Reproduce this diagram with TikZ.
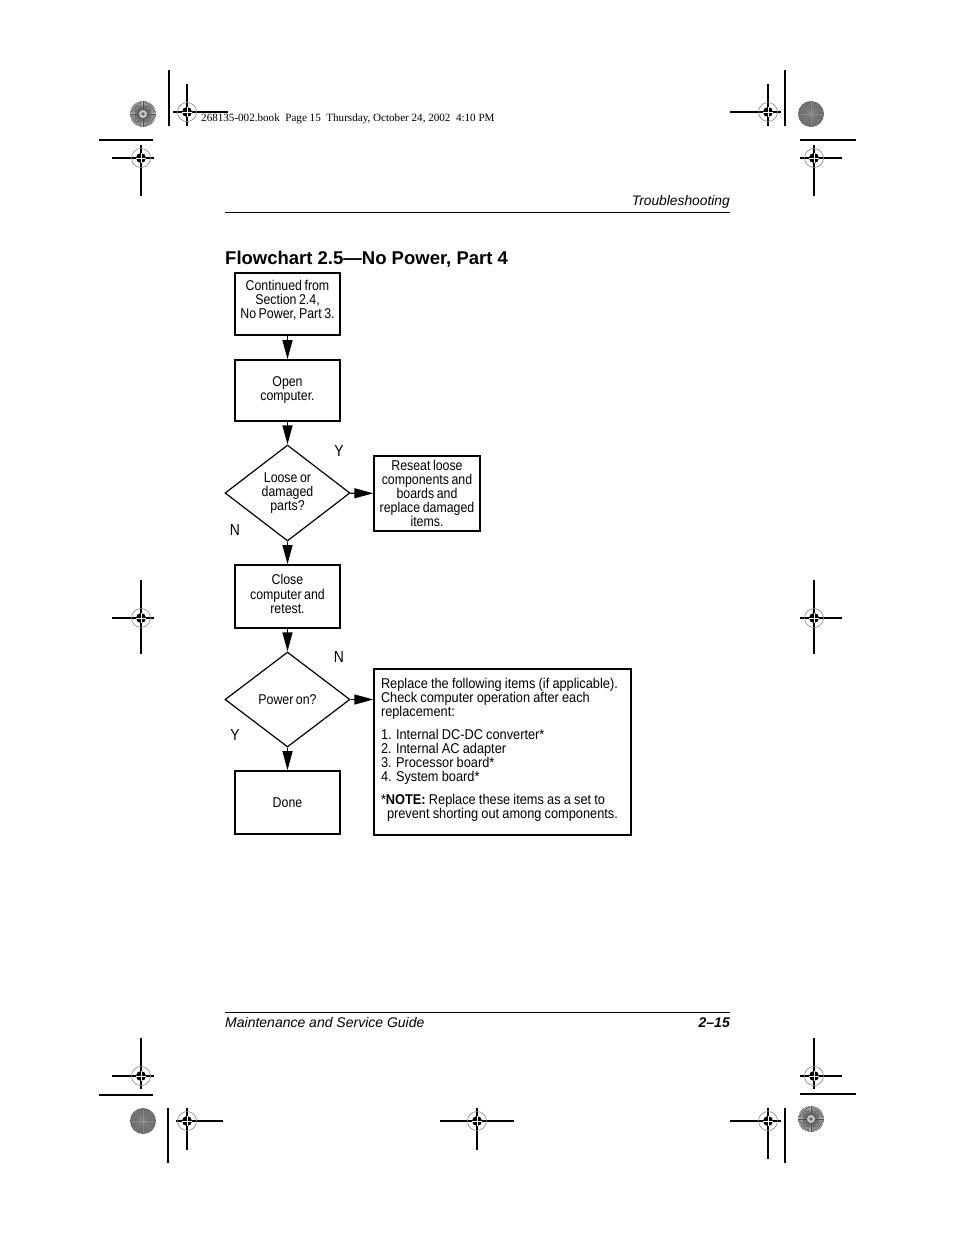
\documentclass[tikz,border=0pt]{standalone}
\usepackage{fontspec}
\setmainfont{Liberation Sans}
\newfontfamily\condfont[FakeStretch=0.87,WordSpace=0.75]{Liberation Sans}
\newfontfamily\condwide[FakeStretch=0.9,WordSpace=0.9]{Liberation Sans}
\newfontfamily\timesfont{Liberation Serif}
\usetikzlibrary{arrows.meta,shapes.geometric}
\newcommand\regm[6]{%
  \draw[line width=1.1pt] (#3,#2) -- (#4,#2) (#1,#5) -- (#1,#6);
  \draw[gray,line width=0.6pt] (#1,#2) circle[radius=9.5pt];
  \fill (#1,#2) circle[radius=5pt];
  \draw[white,line width=0.7pt] (#1-5,#2) -- (#1+5,#2) (#1,#2-5) -- (#1,#2+5);
}
\newcommand\burstlight[2]{%
  \fill[gray!45] (#1,#2) circle[radius=13pt];
  \foreach \a in {0,6,...,354} \draw[black!70,line width=0.45pt] (#1,#2) ++(\a:4pt) -- ++(\a:9pt);
  \fill[black!60] (#1,#2) circle[radius=1.8pt];
}
\newcommand\burstdark[2]{%
  \fill[black!58] (#1,#2) circle[radius=13pt];
  \foreach \a in {0,15,...,345} \draw[black!45,line width=0.4pt] (#1,#2) -- ++(\a:12pt);
}
\newcommand\liftc[2]{\raisebox{#1}[\height][\depth]{\begin{tabular}{@{}c@{}}#2\end{tabular}}}
\begin{document}
\begin{tikzpicture}[x=1pt,y=-1pt,
  box/.style={draw,line width=1.7pt,minimum width=105pt,minimum height=62pt,inner sep=2pt,align=center,font=\condfont\fontsize{14.2}{14}\selectfont},
  dia/.style={draw,diamond,line width=1.2pt,minimum width=125pt,minimum height=96pt,inner sep=0pt,align=center,font=\condfont\fontsize{14.2}{14}\selectfont},
  lbl/.style={font=\condfont\fontsize{16}{16}\selectfont,inner sep=0pt},
  arr/.style={line width=1.2pt,-{Triangle[length=19pt,width=10pt]}},
  rule/.style={line width=0.9pt}]
\useasboundingbox (0,0) rectangle (954,1235);
% printer marks
\burstlight{143}{114}
\draw[line width=1.1pt] (169,70) -- (169,126);
\regm{187}{112}{173}{228}{84}{126}
\node[anchor=base west,inner sep=0pt,font=\timesfont\fontsize{11.1}{12}\selectfont] (bookline) at (201,121.5) {268135-002.book\ \ Page 15\ \ Thursday, October 24, 2002\ \ 4:10 PM};
\draw[line width=1.1pt] (99,140) -- (153,140);
\regm{141}{158}{112}{154}{145}{196}
\regm{768}{112}{730}{781}{84}{126}
\draw[line width=1.1pt] (785,70) -- (785,126);
\burstdark{811}{114}
\draw[line width=1.1pt] (800,140) -- (856,140);
\regm{814}{158}{800}{842}{145}{196}
\regm{141}{618}{112}{154}{580}{654}
\regm{814}{618}{800}{842}{580}{654}
\regm{141}{1076}{112}{154}{1038}{1089}
\draw[line width=1.1pt] (99,1095) -- (153,1095);
\burstdark{143}{1121}
\draw[line width=1.1pt] (168,1108) -- (168,1163);
\regm{187}{1121}{176}{223}{1108}{1150}
\regm{477}{1121}{440}{514}{1108}{1150}
\regm{768}{1121}{730}{781}{1108}{1159}
\draw[line width=1.1pt] (785,1108) -- (785,1163);
\burstlight{811}{1119}
\regm{814}{1076}{800}{842}{1038}{1089}
\draw[line width=1.1pt] (800,1094) -- (856,1094);
% header / footer
\node[anchor=base east,inner sep=0pt,font=\itshape\fontsize{13.8}{15}\selectfont] (header) at (730,205) {Troubleshooting};
\draw[rule] (225,212) -- (730,212);
\draw[rule] (225,1012) -- (730,1012);
\node[anchor=base west,inner sep=0pt,font=\itshape\fontsize{14}{15}\selectfont] (footer) at (225,1027) {Maintenance and Service Guide};
\node[anchor=base east,inner sep=0pt,font=\bfseries\itshape\fontsize{14}{15}\selectfont] (pageno) at (730,1027) {2--15};
% title
\node[anchor=base west,inner sep=0pt,font=\bfseries\fontsize{18.5}{20}\selectfont] (title) at (225,264.5) {Flowchart 2.5---No Power, Part 4};
% flowchart
\node[box] (cont) at (287.5,304) {\liftc{2.5pt}{Continued from\\Section 2.4,\\No Power, Part 3.}};
\node[box,minimum height=61pt] (open) at (287.5,390.5) {Open\\computer.};
\node[dia] (loose) at (287.5,493) {Loose or\\damaged\\parts?};
\node[box,line width=1.4pt,minimum width=106pt,minimum height=75pt] (reseat) at (427,493.5) {Reseat loose\\components and\\boards and\\replace damaged\\items.};
\node[box,minimum height=63pt] (close) at (287.5,596.5) {\liftc{0.5pt}{Close\\computer and\\retest.}};
\node[dia,minimum height=95pt] (power) at (287.5,699.5) {Power on?};
\node[box,line width=1.4pt,minimum width=257pt,minimum height=166pt,inner xsep=7pt,font=\condwide\fontsize{14.2}{14}\selectfont] (replace) at (502.5,752) {\raisebox{2.5pt}[\height][\depth]{\parbox{243pt}{\raggedright Replace the following items (if applicable).\\Check computer operation after each\\replacement:\\[9pt]1. Internal DC-DC converter*\\2. Internal AC adapter\\3. Processor board*\\4. System board*\\[9pt]*\textbf{NOTE:} Replace these items as a set to\\\hspace*{6pt}prevent shorting out among components.}}};
\node[box,minimum height=63pt] (done) at (287.5,802.5) {Done};
\draw[arr] (cont) -- (open);
\draw[arr] (open) -- (loose);
\draw[arr] (loose) -- (reseat);
\draw[arr] (loose) -- (close);
\draw[arr] (close) -- (power);
\draw[arr] (power) -- (replace.west |- power.east);
\draw[arr] (power) -- (done);
\node[lbl] (y1) at (339,451) {Y};
\node[lbl] (n1) at (235,530) {N};
\node[lbl] (n2) at (339,657) {N};
\node[lbl] (y2) at (235,735) {Y};
\end{tikzpicture}
\end{document}
